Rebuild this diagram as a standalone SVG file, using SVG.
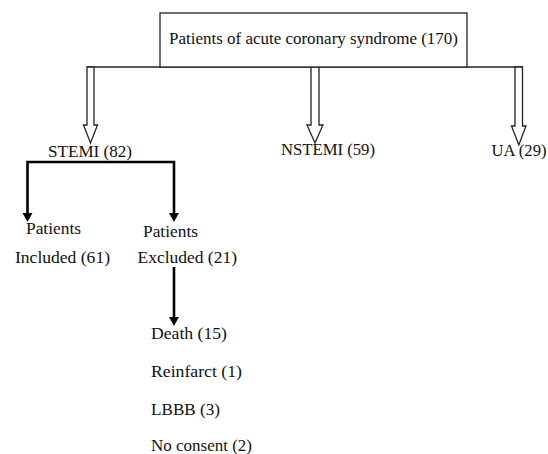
<svg xmlns="http://www.w3.org/2000/svg" width="548" height="454" viewBox="0 0 548 454">
<defs>
<style>
text{font-size:17.5px;fill:#111}
.box{fill:#fff;stroke:#222;stroke-width:1.3}
.hollow{fill:#fff;stroke:#222;stroke-width:1.3;stroke-linejoin:miter}
.thin{stroke:#222;stroke-width:1.5;fill:none}
.thick{stroke:#000;stroke-width:2.6;fill:none}
</style>
</defs>
<rect width="548" height="454" fill="#fff"/>
<g id="connectors">
<line class="thin" x1="87" y1="67" x2="523" y2="67"/>
<path class="hollow" d="M87,67 L94,67 L94,125 L97.5,125 L90.5,143 L83.5,125 L87,125 Z"/>
<path class="hollow" d="M311,67 L319,67 L319,125 L323,125 L315,143 L307,125 L311,125 Z"/>
<path class="hollow" d="M515,67 L522.5,67 L522.5,126 L526,126 L518.8,145 L511.5,126 L515,126 Z"/>
<path class="thick" d="M27.5,214 L27.5,162 L174,162 L174,214" />
<path d="M22.5,213 L32.5,213 L27.5,222 Z" fill="#000"/>
<path d="M169,213 L179,213 L174,222 Z" fill="#000"/>
<line class="thick" x1="174" y1="267" x2="174" y2="318"/>
<path d="M169,317 L179,317 L174,326 Z" fill="#000"/>
</g>
<g font-family="'Liberation Serif', 'DejaVu Serif', serif">
<g id="acs">
<rect class="box" x="160" y="13" width="307" height="54"/>
<text x="169" y="44" textLength="289" lengthAdjust="spacingAndGlyphs">Patients of acute coronary syndrome (170)</text>
</g>
<g id="stemi"><text x="48" y="157" textLength="84" lengthAdjust="spacingAndGlyphs">STEMI (82)</text></g>
<g id="nstemi"><text x="281" y="155" textLength="94" lengthAdjust="spacingAndGlyphs">NSTEMI (59)</text></g>
<g id="ua"><text x="491.5" y="156" textLength="55" lengthAdjust="spacingAndGlyphs">UA (29)</text></g>
<g id="included">
<text x="26" y="234" textLength="55" lengthAdjust="spacingAndGlyphs">Patients</text>
<text x="15" y="262.5" textLength="95" lengthAdjust="spacingAndGlyphs">Included (61)</text>
</g>
<g id="excluded">
<text x="143" y="237" textLength="55" lengthAdjust="spacingAndGlyphs">Patients</text>
<text x="137.5" y="262.5" textLength="99.5" lengthAdjust="spacingAndGlyphs">Excluded (21)</text>
</g>
<g id="reasons">
<text x="151" y="339" textLength="76" lengthAdjust="spacingAndGlyphs">Death (15)</text>
<text x="151" y="377" textLength="91" lengthAdjust="spacingAndGlyphs">Reinfarct (1)</text>
<text x="151" y="415" textLength="69" lengthAdjust="spacingAndGlyphs">LBBB (3)</text>
<text x="151" y="451" textLength="101" lengthAdjust="spacingAndGlyphs">No consent (2)</text>
</g>
</g>
</svg>
